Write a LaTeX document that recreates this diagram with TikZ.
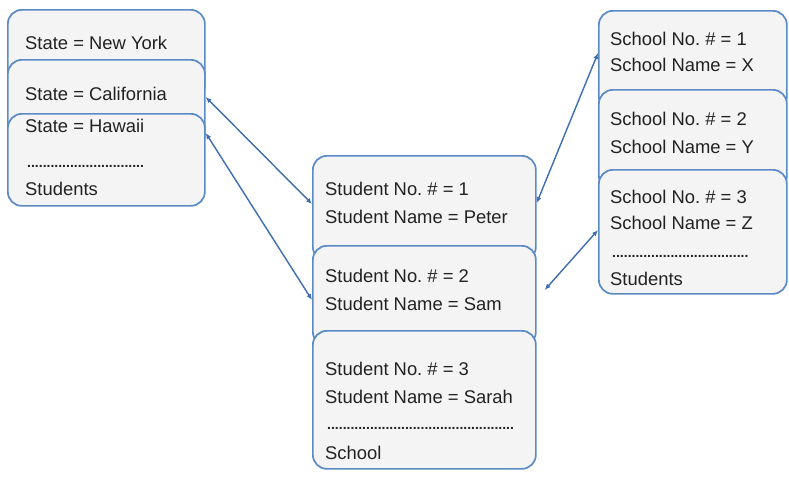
\documentclass[tikz,border=0pt]{standalone}
\usepackage{fontspec}
\setmainfont{Liberation Sans}
\usetikzlibrary{arrows.meta}
\definecolor{bord}{HTML}{5B8BC7}
\definecolor{arr}{HTML}{3D6DB0}
\definecolor{boxfill}{HTML}{F4F4F5}
\definecolor{txt}{HTML}{222222}
\newcommand{\mydotrow}[1]{\foreach \i in {1,...,#1}{.}}
\frenchspacing
\begin{document}
\begin{tikzpicture}[x=1pt,y=-1pt,
 rec/.style={draw=bord, line width=1.7pt, fill=boxfill, rounded corners=14pt, anchor=north west, inner sep=0pt},
 lbl/.style={anchor=base west, inner sep=0pt, text=txt, font=\fontsize{18.4}{20}\selectfont},
 dotrow/.style={anchor=west, inner sep=0pt, text=txt, font=\fontsize{14}{14}\selectfont\bfseries},
 link/.style={draw=arr, line width=1.4pt, {Latex[length=6pt,width=5pt]}-{Latex[length=6pt,width=5pt]}}]
\useasboundingbox (0,0) rectangle (789,477);
% left column
\node[rec, minimum width=197pt, minimum height=90pt] (ny) at (7,9) {};
\node[rec, minimum width=197pt, minimum height=90pt] (cal) at (7,59) {};
\node[rec, minimum width=197pt, minimum height=92pt] (haw) at (7,113) {};
% middle column
\node[rec, minimum width=223pt, minimum height=105pt] (s1) at (312,155) {};
\node[rec, minimum width=223pt, minimum height=100pt] (s2) at (312,245) {};
\node[rec, minimum width=223pt, minimum height=138pt] (s3) at (312,330) {};
% right column
\node[rec, minimum width=188pt, minimum height=100pt] (c1) at (598,10) {};
\node[rec, minimum width=188pt, minimum height=100pt] (c2) at (598,89) {};
\node[rec, minimum width=188pt, minimum height=124pt] (c3) at (598,169) {};
% texts left
\node[lbl] (t1) at (25,49) {State = New York};
\node[lbl] (t2) at (25,100) {State = California};
\node[lbl] (t3) at (25,132) {State = Hawaii};
\node[dotrow] (d1) at (27,166) {\mydotrow{30}};
\node[lbl] (t4) at (25,195) {Students};
% texts middle
\node[lbl] (m1) at (325,195) {Student No. \# = 1};
\node[lbl] (m2) at (325,223) {Student Name = Peter};
\node[lbl] (m3) at (325,282) {Student No. \# = 2};
\node[lbl] (m4) at (325,310) {Student Name = Sam};
\node[lbl] (m5) at (325,375) {Student No. \# = 3};
\node[lbl] (m6) at (325,403) {Student Name = Sarah};
\node[dotrow] (d2) at (327,428) {\mydotrow{48}};
\node[lbl] (m7) at (325,459) {School};
% texts right
\node[lbl] (r1) at (610,45) {School No. \# = 1};
\node[lbl] (r2) at (610,71) {School Name = X};
\node[lbl] (r3) at (610,125) {School No. \# = 2};
\node[lbl] (r4) at (610,153) {School Name = Y};
\node[lbl] (r5) at (610,203) {School No. \# = 3};
\node[lbl] (r6) at (610,229) {School Name = Z};
\node[dotrow] (d3) at (612,256) {\mydotrow{35}};
\node[lbl] (r7) at (610,285) {Students};
% connectors
\draw[link] ([yshift=-38pt]cal.north east) -- ([yshift=-49pt]s1.north west);
\draw[link] ([yshift=-20pt]haw.north east) -- ([yshift=-55pt]s2.north west);
\draw[link] ([yshift=-43pt]c1.north west) -- ([yshift=-48pt]s1.north east);
\draw[link] ([yshift=-61pt]c3.north west) -- ([xshift=8pt,yshift=-45pt]s2.north east);
\end{tikzpicture}
\end{document}
